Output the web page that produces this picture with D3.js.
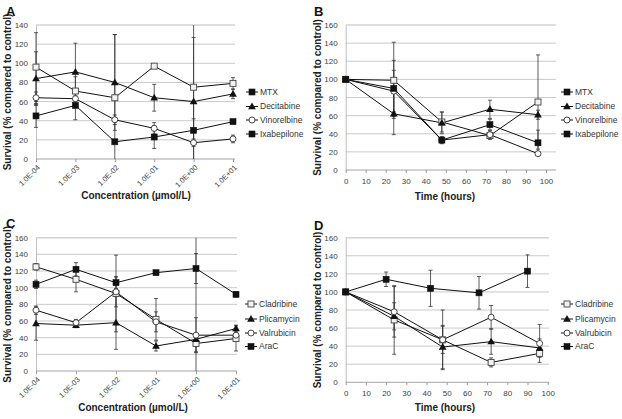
<!DOCTYPE html>
<html><head><meta charset="utf-8">
<script src="https://cdn.jsdelivr.net/npm/d3@7"></script>
<style>
body{margin:0;background:#fff;}
svg{font-family:"Liberation Sans",Arial,sans-serif;}
</style></head>
<body><svg id="c" width="622" height="419"></svg>
<script>
// ---------- DATA ----------
const concCategories = ["1.0E-04","1.0E-03","1.0E-02","1.0E-01","1.0E+00","1.0E+01"];
const timeTicks = [0,10,20,30,40,50,60,70,80,90,100];
const timePoints = [0,24,48,72,96];
const araCTimePoints = [0,20,42,66,90];
const yTicksA = [0,20,40,60,80,100,120,140];
const yTicks160 = [0,20,40,60,80,100,120,140,160];

// Panel A (concentration)
const aMTX = [96,71,64,97,75,79];
const aMTXErr = [36,15,66,0,75,6];
const aDecitabine = [84,91,80,64,60,68];
const aDecitabineErr = [28,30,50,14,67,5];
const aVinorelbine = [64,63,41,32,17,21];
const aVinorelbineErr = [6,3,5,6,4,4];
const aIxabepilone = [45,56,18,23,30,39];
const aIxabepiloneErr = [12,15,1,12,12,1];

// Panel B (time)
const bMTX = [100,99,53,38,75];
const bMTXErr = [0,42,11,4,52];
const bDecitabine = [100,62,52,67,61];
const bDecitabineErr = [0,23,12,10,5];
const bVinorelbine = [100,87,33,39,18];
const bVinorelbineErr = [0,23,2,5,2];
const bIxabepilone = [100,90,33,50,30];
const bIxabepiloneErr = [0,31,4,6,14];

// Panel C (concentration)
const cCladribine = [125,110,93,62,33,39];
const cCladribineErr = [4,15,46,25,10,15];
const cPlicamycin = [57,55,58,30,38,51];
const cPlicamycinErr = [20,3,32,6,125,4];
const cValrubicin = [73,58,95,59,43,43];
const cValrubicinErr = [5,4,18,12,21,3];
const cAraC = [104,122,106,118,123,92];
const cAraCErr = [5,8,7,2,18,3];

// Panel D (time)
const dCladribine = [100,69,47,22,32];
const dCladribineErr = [0,38,15,5,4];
const dPlicamycin = [100,73,39,45,38];
const dPlicamycinErr = [0,15,24,14,10];
const dValrubicin = [100,78,47,72,43];
const dValrubicinErr = [0,28,33,13,21];
const dAraC = [100,114,104,99,123];
const dAraCErr = [0,8,20,18,18];

// ---------- DRAW ----------
const svg = d3.select("#c");
const tickColor = "#404040";

function marker(g, type, x, y){
  if(type==="fsq"){
    g.append("rect").attr("x",x-3).attr("y",y-3).attr("width",6).attr("height",6).attr("fill","#111").attr("stroke","#111").attr("stroke-width",0.6);
  } else if(type==="osq"){
    g.append("rect").attr("x",x-3).attr("y",y-3).attr("width",6).attr("height",6).attr("fill","#f2f2f2").attr("stroke","#444").attr("stroke-width",0.9);
  } else if(type==="tri"){
    g.append("path").attr("d",d3.symbol(d3.symbolTriangle,26)()).attr("transform",`translate(${x},${y+0.5})`).attr("fill","#111");
  } else if(type==="oci"){
    g.append("circle").attr("cx",x).attr("cy",y).attr("r",3).attr("fill","#fff").attr("stroke","#333").attr("stroke-width",0.9);
  }
}

function panel(cfg){
  const g = svg.append("g");
  const y = d3.scaleLinear().domain([0,cfg.ymax]).range([cfg.yBottom,cfg.yTop]);
  let x;
  if(cfg.kind==="cat"){
    x = d3.scalePoint().domain(concCategories).range([cfg.x0,cfg.x1]);
  } else {
    x = d3.scaleLinear().domain([0,100]).range([cfg.x0,cfg.x1]);
  }
  // gridlines
  g.append("g").selectAll("line").data(cfg.yTicks.filter(d=>d>0)).join("line")
    .attr("x1",cfg.x0).attr("x2",cfg.gridRight).attr("y1",d=>y(d)).attr("y2",d=>y(d))
    .attr("stroke",d=>d===cfg.ymax?"#d4d4d4":"#c4c4c4").attr("stroke-width",d=>d===cfg.ymax?1.6:0.9);
  // y axis
  const ya = g.append("g").attr("transform",`translate(${cfg.x0},0)`)
    .call(d3.axisLeft(y).tickValues(cfg.yTicks).tickSize(0).tickPadding(8));
  ya.select(".domain").attr("stroke","#b0b0b0").attr("stroke-width",0.8);
  ya.selectAll("text").attr("font-size",8).attr("fill",tickColor);
  // x axis
  if(cfg.kind==="cat"){
    const xa = g.append("g").attr("transform",`translate(0,${cfg.yBottom})`)
      .call(d3.axisBottom(x).tickSize(3).tickSizeOuter(0));
    xa.select(".domain").attr("d",`M${cfg.x0},0H${cfg.gridRight}`).attr("stroke","#9a9a9a").attr("stroke-width",0.9);
    xa.selectAll(".tick line").attr("stroke","#9a9a9a");
    xa.selectAll("text").attr("font-size",7.5).attr("fill",tickColor)
      .attr("text-anchor","end").attr("dy",null).attr("y",null)
      .attr("transform","translate(4,9) rotate(-45)");
  } else {
    const xa = g.append("g").attr("transform",`translate(0,${cfg.yBottom})`)
      .call(d3.axisBottom(x).tickValues(timeTicks).tickSize(3).tickPadding(5).tickSizeOuter(0));
    xa.select(".domain").attr("d",`M${cfg.x0},0H${cfg.gridRight}`).attr("stroke","#9a9a9a").attr("stroke-width",0.9);
    xa.selectAll(".tick line").attr("stroke","#9a9a9a");
    xa.selectAll("text").attr("font-size",8).attr("fill",tickColor);
  }
  // clip
  const cid = "clip"+cfg.label;
  svg.append("clipPath").attr("id",cid).append("rect")
    .attr("x",cfg.x0-10).attr("y",cfg.yTop).attr("width",cfg.gridRight-cfg.x0+20).attr("height",cfg.yBottom-cfg.yTop+1);
  const pg = g.append("g").attr("clip-path",`url(#${cid})`);
  const sg = g.append("g");
  cfg.series.forEach(s=>{
    const xs = s.xs;
    const pts = s.values.map((v,i)=>[x(xs[i]), y(v), v, s.err[i]]);
    pts.forEach(p=>{
      if(!p[3]) return;
      const lo = Math.max(0,p[2]-p[3]), hi = p[2]+p[3];
      pg.append("line").attr("x1",p[0]).attr("x2",p[0]).attr("y1",y(lo)).attr("y2",y(hi)).attr("stroke","#333").attr("stroke-width",0.8);
      [lo,hi].forEach(v=>{
        if(v>0 && v<=cfg.ymax) pg.append("line").attr("x1",p[0]-2).attr("x2",p[0]+2).attr("y1",y(v)).attr("y2",y(v)).attr("stroke","#333").attr("stroke-width",0.8);
      });
    });
  });
  cfg.series.forEach(s=>{
    const pts = s.values.map((v,i)=>[x(s.xs[i]), y(v)]);
    sg.append("path").attr("d",d3.line()(pts)).attr("fill","none").attr("stroke","#111").attr("stroke-width",1);
  });
  cfg.series.forEach(s=>{
    s.values.forEach((v,i)=>marker(sg, s.marker, x(s.xs[i]), y(v)));
  });
  // legend
  const lg = g.append("g");
  cfg.series.forEach((s,i)=>{
    const ly = cfg.legendY[i];
    lg.append("line").attr("x1",cfg.legendX).attr("x2",cfg.legendX+12).attr("y1",ly).attr("y2",ly).attr("stroke","#111").attr("stroke-width",1);
    marker(lg, s.legendMarker||s.marker, cfg.legendX+6, ly);
    lg.append("text").attr("x",cfg.legendX+14).attr("y",ly).attr("dy","0.35em").attr("font-size",8.5).attr("fill","#333").text(s.name);
  });
  // y title
  g.append("text").attr("transform",`translate(${cfg.yTitleX},${(cfg.yTop+cfg.yBottom)/2}) rotate(-90)`)
    .attr("text-anchor","middle").attr("font-size",10).attr("font-weight","bold").attr("fill","#222")
    .text("Survival (% compared to control)");
  // x title
  g.append("text").attr("x",cfg.xTitleX).attr("y",cfg.xTitleY).attr("text-anchor","middle")
    .attr("font-size",10).attr("font-weight","bold").attr("fill","#222").text(cfg.xTitle);
  // panel label
  g.append("text").attr("x",cfg.labelX).attr("y",cfg.labelY).attr("font-size",13).attr("font-weight","bold").attr("fill","#111").text(cfg.label);
}

const cat = concCategories;
panel({label:"A",labelX:6,labelY:16,kind:"cat",ymax:140,yTicks:yTicksA,yTop:25,yBottom:159,x0:36,x1:233,gridRight:235,
  legendX:246,legendY:[92,106.5,120,134],yTitleX:11,xTitle:"Concentration (µmol/L)",xTitleX:136,xTitleY:199,
  series:[
    {name:"MTX",values:aMTX,err:aMTXErr,xs:cat,marker:"osq",legendMarker:"fsq"},
    {name:"Decitabine",values:aDecitabine,err:aDecitabineErr,xs:cat,marker:"tri"},
    {name:"Vinorelbine",values:aVinorelbine,err:aVinorelbineErr,xs:cat,marker:"oci"},
    {name:"Ixabepilone",values:aIxabepilone,err:aIxabepiloneErr,xs:cat,marker:"fsq"}
  ]});
panel({label:"B",labelX:314,labelY:16,kind:"time",ymax:160,yTicks:yTicks160,yTop:25,yBottom:170,x0:345.7,x1:546,gridRight:556,
  legendX:561,legendY:[92,106.5,120,134],yTitleX:321,xTitle:"Time (hours)",xTitleX:445,xTitleY:200,
  series:[
    {name:"MTX",values:bMTX,err:bMTXErr,xs:timePoints,marker:"osq",legendMarker:"fsq"},
    {name:"Decitabine",values:bDecitabine,err:bDecitabineErr,xs:timePoints,marker:"tri"},
    {name:"Vinorelbine",values:bVinorelbine,err:bVinorelbineErr,xs:timePoints,marker:"oci"},
    {name:"Ixabepilone",values:bIxabepilone,err:bIxabepiloneErr,xs:timePoints,marker:"fsq"}
  ]});
panel({label:"C",labelX:6,labelY:228,kind:"cat",ymax:160,yTicks:yTicks160,yTop:237.7,yBottom:371,x0:36,x1:236,gridRight:237,
  legendX:245,legendY:[304,319,333,346.5],yTitleX:11,xTitle:"Concentration (µmol/L)",xTitleX:133,xTitleY:411,
  series:[
    {name:"Cladribine",values:cCladribine,err:cCladribineErr,xs:cat,marker:"osq"},
    {name:"Plicamycin",values:cPlicamycin,err:cPlicamycinErr,xs:cat,marker:"tri"},
    {name:"Valrubicin",values:cValrubicin,err:cValrubicinErr,xs:cat,marker:"oci"},
    {name:"AraC",values:cAraC,err:cAraCErr,xs:cat,marker:"fsq"}
  ]});
panel({label:"D",labelX:314,labelY:230,kind:"time",ymax:160,yTicks:yTicks160,yTop:237.7,yBottom:382.3,x0:345.7,x1:547.7,gridRight:549,
  legendX:561,legendY:[304,319,333,346.5],yTitleX:321,xTitle:"Time (hours)",xTitleX:445,xTitleY:411,
  series:[
    {name:"Cladribine",values:dCladribine,err:dCladribineErr,xs:timePoints,marker:"osq"},
    {name:"Plicamycin",values:dPlicamycin,err:dPlicamycinErr,xs:timePoints,marker:"tri"},
    {name:"Valrubicin",values:dValrubicin,err:dValrubicinErr,xs:timePoints,marker:"oci"},
    {name:"AraC",values:dAraC,err:dAraCErr,xs:araCTimePoints,marker:"fsq"}
  ]});
</script></body></html>
